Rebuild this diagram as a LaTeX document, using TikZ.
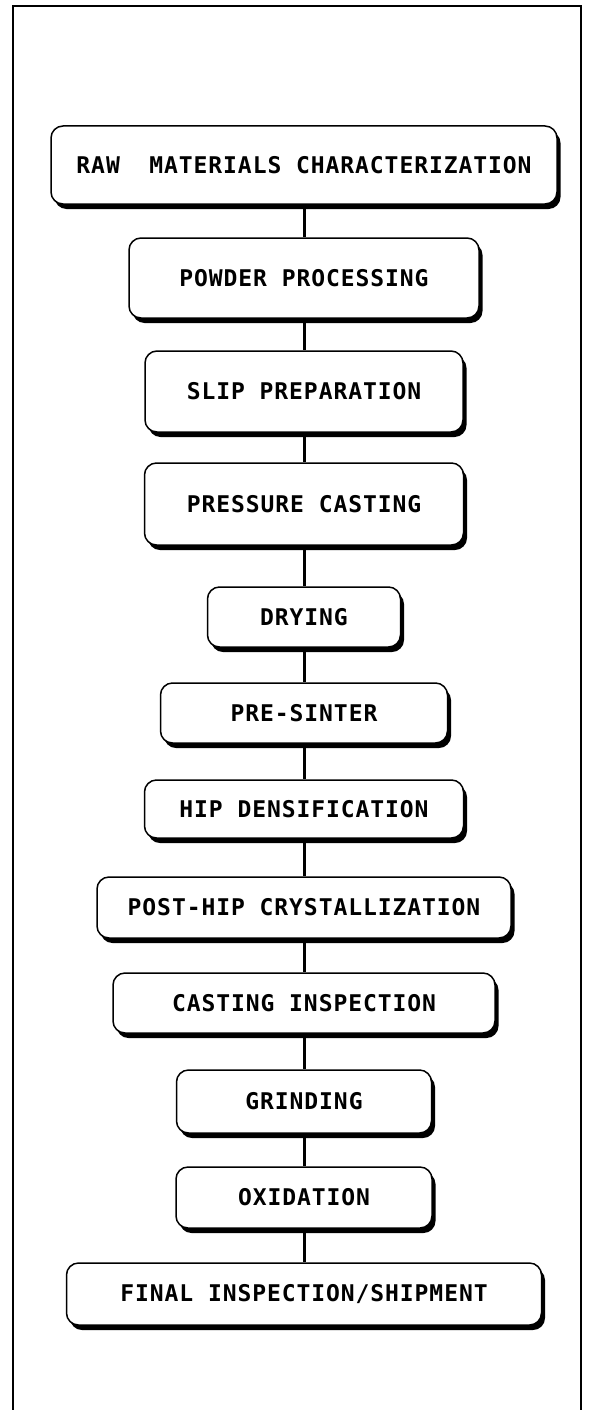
\documentclass[tikz,border=0pt]{standalone}
\usepackage{fontspec}
\newfontfamily\plotfont[LetterSpace=4]{DejaVu Sans Mono}
\usepackage{tikz}
\usetikzlibrary{shadows}

\begin{document}
\begin{tikzpicture}[x=1pt, y=-1pt,
  every node/.style={font=\plotfont\bfseries\fontsize{23}{25}\selectfont},
  stage/.style={draw, line width=1.5pt, fill=white, rounded corners=12pt, inner sep=0pt,
    drop shadow={shadow xshift=3.5pt, shadow yshift=-5pt, fill=black, opacity=1}},
  link/.style={line width=3pt}]
  \useasboundingbox (0,0) rectangle (593,1410);
  \draw[line width=2pt] (13,1410) -- (13,6) -- (581,6) -- (581,1410);
  \node[stage, minimum width=506pt, minimum height=78pt] (raw)       at (304,165)    {RAW~~MATERIALS CHARACTERIZATION};
  \node[stage, minimum width=350pt, minimum height=80pt] (powder)    at (304,278)    {POWDER PROCESSING};
  \node[stage, minimum width=318pt, minimum height=81pt] (slip)      at (304,391.5)  {SLIP PREPARATION};
  \node[stage, minimum width=319pt, minimum height=82pt] (cast)      at (304,504)    {PRESSURE CASTING};
  \node[stage, minimum width=193pt, minimum height=60pt] (dry)       at (304,617)    {DRYING};
  \node[stage, minimum width=287pt, minimum height=60pt] (presinter) at (304,713)    {PRE-SINTER};
  \node[stage, minimum width=319pt, minimum height=58pt] (hip)       at (304,809)    {HIP DENSIFICATION};
  \node[stage, minimum width=414pt, minimum height=61pt] (posthip)   at (304,907.5)  {POST-HIP CRYSTALLIZATION};
  \node[stage, minimum width=382pt, minimum height=60pt] (inspect)   at (304,1003)   {CASTING INSPECTION};
  \node[stage, minimum width=255pt, minimum height=63pt] (grind)     at (304,1101.5) {GRINDING};
  \node[stage, minimum width=256pt, minimum height=61pt] (oxid)      at (304,1197.5) {OXIDATION};
  \node[stage, minimum width=475pt, minimum height=62pt] (final)     at (304,1294)   {FINAL INSPECTION/SHIPMENT};
  \draw[link] (raw) -- (powder);
  \draw[link] (powder) -- (slip);
  \draw[link] (slip) -- (cast);
  \draw[link] (cast) -- (dry);
  \draw[link] (dry) -- (presinter);
  \draw[link] (presinter) -- (hip);
  \draw[link] (hip) -- (posthip);
  \draw[link] (posthip) -- (inspect);
  \draw[link] (inspect) -- (grind);
  \draw[link] (grind) -- (oxid);
  \draw[link] (oxid) -- (final);
\end{tikzpicture}
\end{document}
